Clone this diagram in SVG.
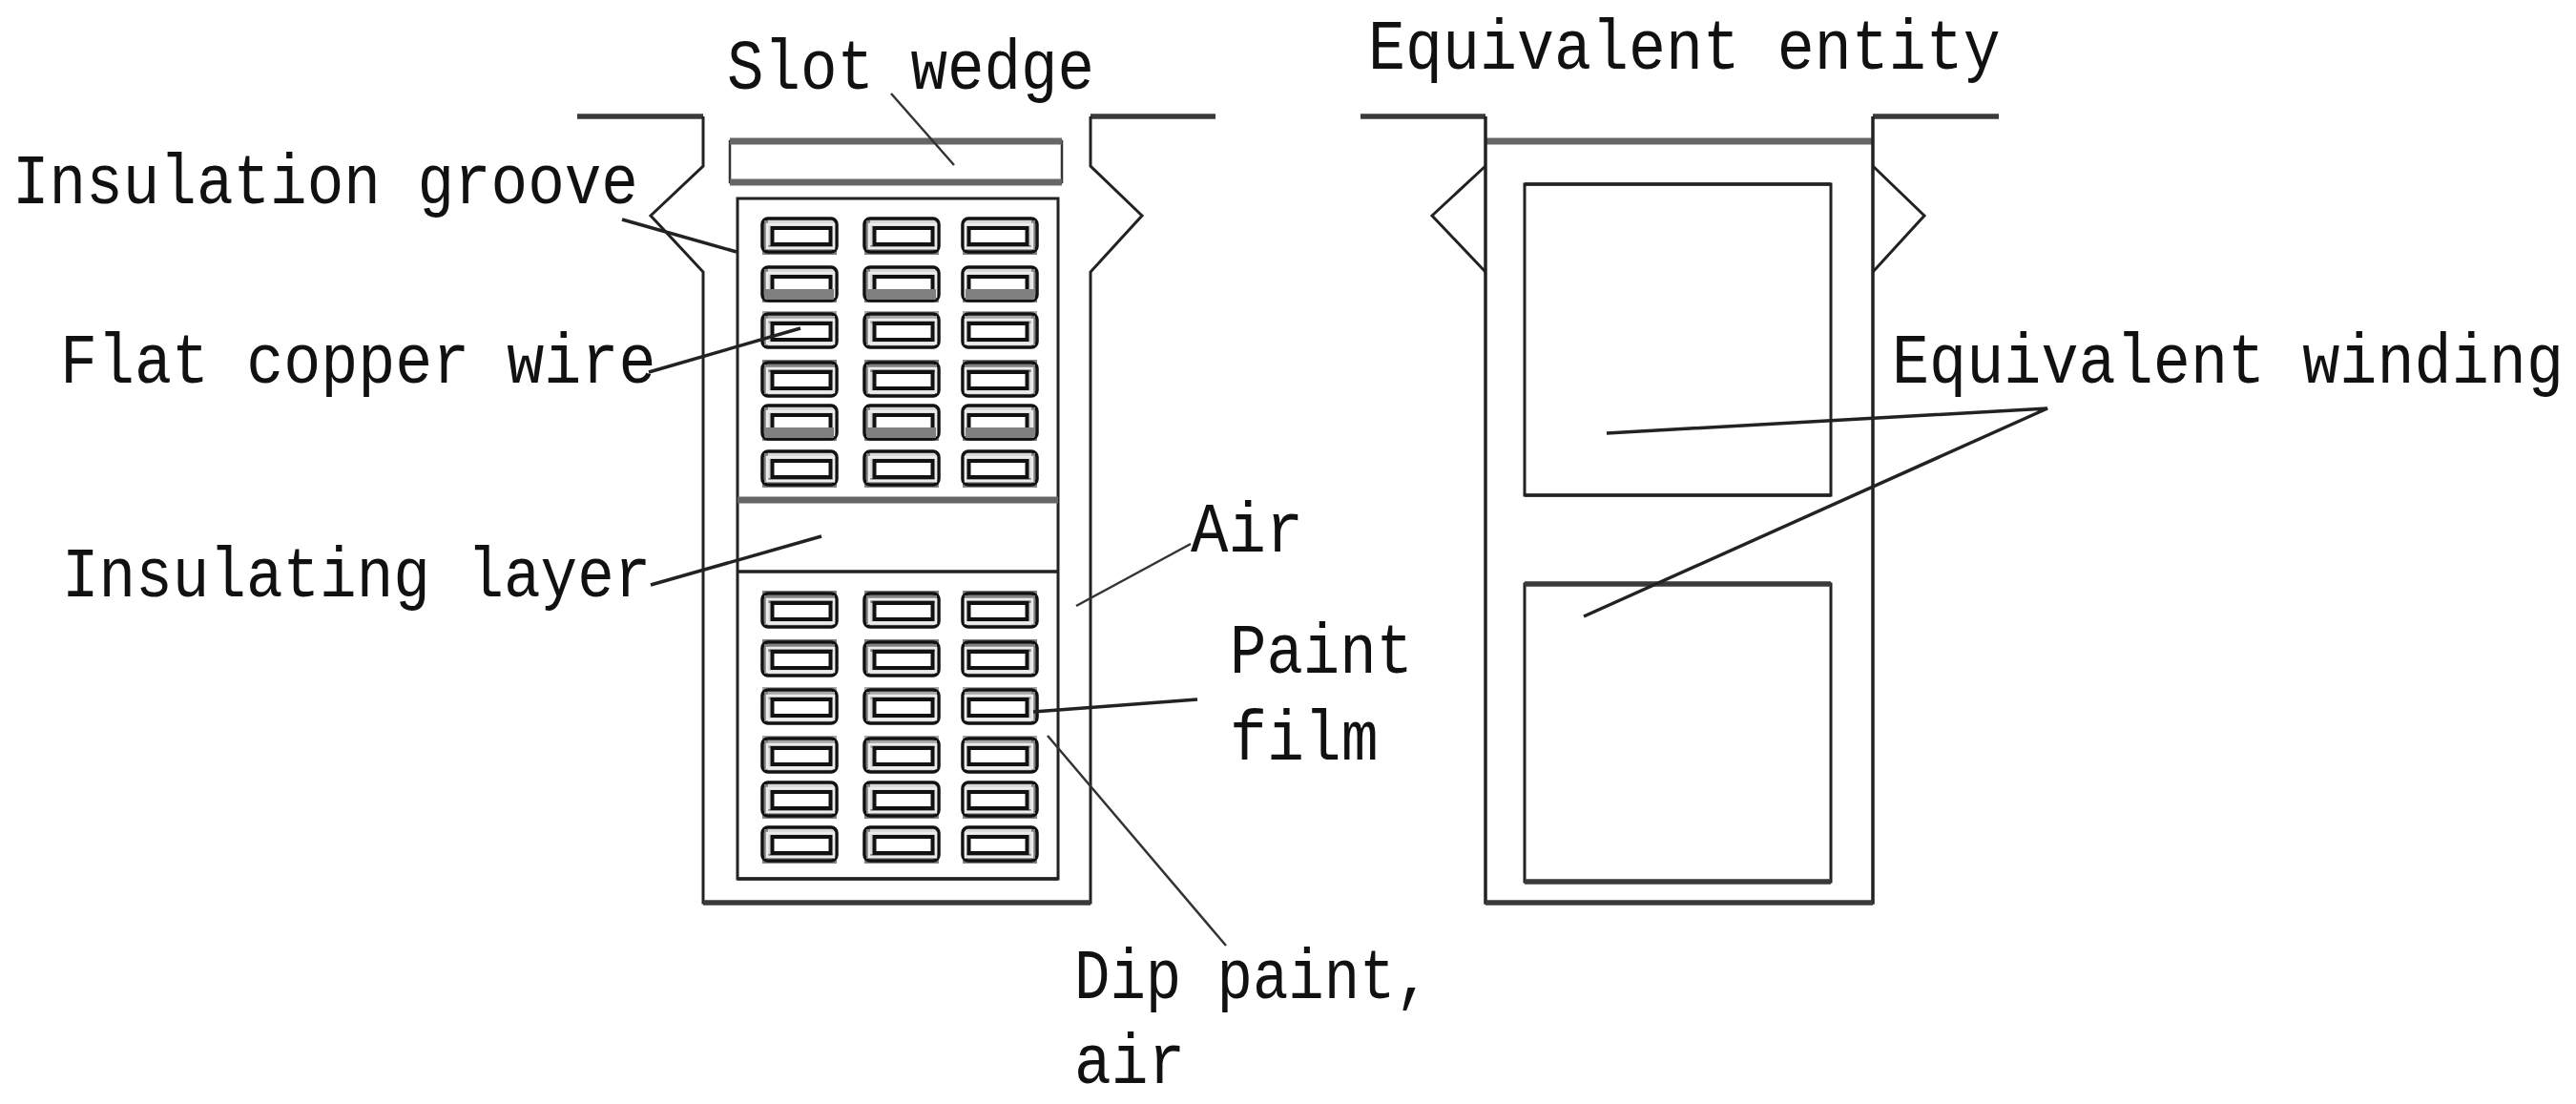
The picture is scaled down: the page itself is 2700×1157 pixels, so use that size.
<svg xmlns="http://www.w3.org/2000/svg" width="2700" height="1157" viewBox="0 0 2700 1157">
<style>
.s{fill:none;stroke:#222;stroke-width:3.5}
.th{fill:none;stroke:#222;stroke-width:3;stroke-linejoin:miter}
.h{fill:none;stroke:#3a3a3a;stroke-width:5.5}
.m{fill:none;stroke:#666;stroke-width:7}
.l{fill:none;stroke:#222;stroke-width:3.5}
.f{fill:none;stroke:#333;stroke-width:2.5}
.o{fill:#d8d8d8;stroke:#111;stroke-width:3.5}
.r{fill:none;stroke:#ececec;stroke-width:2.5}
.i{fill:#fff;stroke:#111;stroke-width:4}
.g{fill:#808080}
.a{fill:#a6a6a6}
text{font-family:"Liberation Mono",monospace;font-size:74px;fill:#111;stroke:none}
</style>
<defs>
<g id="wt"><rect class="g" x="0" y="-3" width="78" height="6"/><rect class="o" width="78" height="35" rx="6"/><rect class="g" x="2" y="2" width="74" height="8"/><rect class="g" x="2" y="2" width="4" height="31"/><rect class="r" x="5" y="6" width="70" height="25"/><rect class="i" x="10.500" y="10" width="61" height="17"/></g>
<g id="wa"><rect class="a" x="0" y="-3" width="78" height="6"/><rect class="o" width="78" height="35" rx="6"/><rect class="a" x="2" y="2" width="74" height="8"/><rect class="g" x="2" y="2" width="4" height="31"/><rect class="r" x="5" y="6" width="70" height="25"/><rect class="i" x="10.500" y="10" width="61" height="17"/></g>
<g id="wb"><rect class="g" x="0" y="32" width="78" height="6"/><rect class="o" width="78" height="35" rx="6"/><rect class="g" x="2" y="28" width="74" height="5"/><rect class="g" x="2" y="2" width="4" height="31"/><rect class="r" x="5" y="6" width="70" height="25"/><rect class="i" x="10.500" y="10" width="61" height="17"/></g>
<g id="wh"><rect class="g" x="0" y="32" width="78" height="5"/><rect class="o" width="78" height="35" rx="6"/><rect class="g" x="2" y="2" width="4" height="31"/><rect class="r" x="5" y="6" width="70" height="25"/><rect class="i" x="10.500" y="10" width="61" height="17"/><rect class="g" x="3" y="23" width="72" height="11"/></g>
</defs>
<rect width="2700" height="1157" fill="#fff"/>
<g id="left-slot">
<path class="h" d="M605 122H737"/><path class="h" d="M1143 122H1274"/>
<path class="th" d="M737 122V174L682 226L737 285V946H1143V285L1197 226L1143 174V122"/>
<path class="h" d="M737 946H1143"/>
</g>
<g id="slot-wedge"><rect class="f" x="765" y="148" width="348" height="43"/><path class="m" d="M765 148H1113M765 191H1113"/></g>
<g id="insulation-groove">
<rect class="th" x="773" y="208" width="336" height="713"/>
<path class="m" d="M773 524H1109"/><path class="s" d="M773 599H1109"/><path class="s" d="M773 921H1109"/>
</g>
<g id="wires-upper">
<use href="#wb" x="799" y="229"/><use href="#wb" x="906" y="229"/><use href="#wb" transform="translate(1087 229) scale(-1 1)"/>
<use href="#wh" x="799" y="280"/><use href="#wh" x="906" y="280"/><use href="#wh" transform="translate(1087 280) scale(-1 1)"/>
<use href="#wa" x="799" y="329"/><use href="#wa" x="906" y="329"/><use href="#wa" transform="translate(1087 329) scale(-1 1)"/>
<use href="#wt" x="799" y="380"/><use href="#wt" x="906" y="380"/><use href="#wt" transform="translate(1087 380) scale(-1 1)"/>
<use href="#wh" x="799" y="425"/><use href="#wh" x="906" y="425"/><use href="#wh" transform="translate(1087 425) scale(-1 1)"/>
<use href="#wb" x="799" y="473"/><use href="#wb" x="906" y="473"/><use href="#wb" transform="translate(1087 473) scale(-1 1)"/>
</g>
<g id="wires-lower">
<use href="#wt" x="799" y="622"/><use href="#wt" x="906" y="622"/><use href="#wt" transform="translate(1087 622) scale(-1 1)"/>
<use href="#wt" x="799" y="673"/><use href="#wt" x="906" y="673"/><use href="#wt" transform="translate(1087 673) scale(-1 1)"/>
<use href="#wa" x="799" y="723"/><use href="#wa" x="906" y="723"/><use href="#wa" transform="translate(1087 723) scale(-1 1)"/>
<use href="#wa" x="799" y="774"/><use href="#wa" x="906" y="774"/><use href="#wa" transform="translate(1087 774) scale(-1 1)"/>
<use href="#wb" x="799" y="820"/><use href="#wb" x="906" y="820"/><use href="#wb" transform="translate(1087 820) scale(-1 1)"/>
<use href="#wb" x="799" y="867"/><use href="#wb" x="906" y="867"/><use href="#wb" transform="translate(1087 867) scale(-1 1)"/>
</g>
<g id="right-slot">
<path class="h" d="M1426 122H1557"/><path class="h" d="M1963 122H2095"/>
<path class="m" d="M1557 148H1963"/>
<path class="s" d="M1557 122V946H1963V122"/>
<path class="h" d="M1557 946H1963"/>
<path class="th" d="M1557 174L1501 226L1557 285"/>
<path class="th" d="M1963 174L2017 226L1963 285"/>
</g>
<g id="equivalent-winding-upper"><rect class="th" x="1598" y="193" width="321" height="326"/><path class="s" d="M1598 193H1919M1598 519H1919"/></g>
<g id="equivalent-winding-lower"><rect class="th" x="1598" y="612" width="321" height="312"/><path class="h" d="M1598 612H1919M1598 924H1919"/></g>
<g id="connectors">
<path class="f" d="M934 98L1000 173"/>
<path class="l" d="M652 230L772 264"/>
<path class="l" d="M680 390L839 344"/>
<path class="l" d="M682 613L861 562"/>
<path class="f" d="M1248 570L1128 635"/>
<path class="l" d="M1255 733L1083 746"/>
<path class="f" d="M1098 771L1285 991"/>
<path class="l" d="M1684 454L2146 428L1660 646"/>
</g>
<g id="labels">
<text transform="translate(762 93) scale(.867 1)">Slot wedge</text>
<text transform="translate(13 213) scale(.869 1)">Insulation groove</text>
<text transform="translate(63 401) scale(.879 1)">Flat copper wire</text>
<text transform="translate(65 625) scale(.869 1)">Insulating layer</text>
<text transform="translate(1248 578) scale(.887 1)">Air</text>
<text transform="translate(1289 705) scale(.865 1)">Paint</text>
<text transform="translate(1289 796) scale(.877 1)">film</text>
<text transform="translate(1126 1046) scale(.842 1)">Dip paint,</text>
<text transform="translate(1126 1135) scale(.872 1)">air</text>
<text transform="translate(1434 72) scale(.878 1)">Equivalent entity</text>
<text transform="translate(1983 401) scale(.881 1)">Equivalent winding</text>
</g>
</svg>
